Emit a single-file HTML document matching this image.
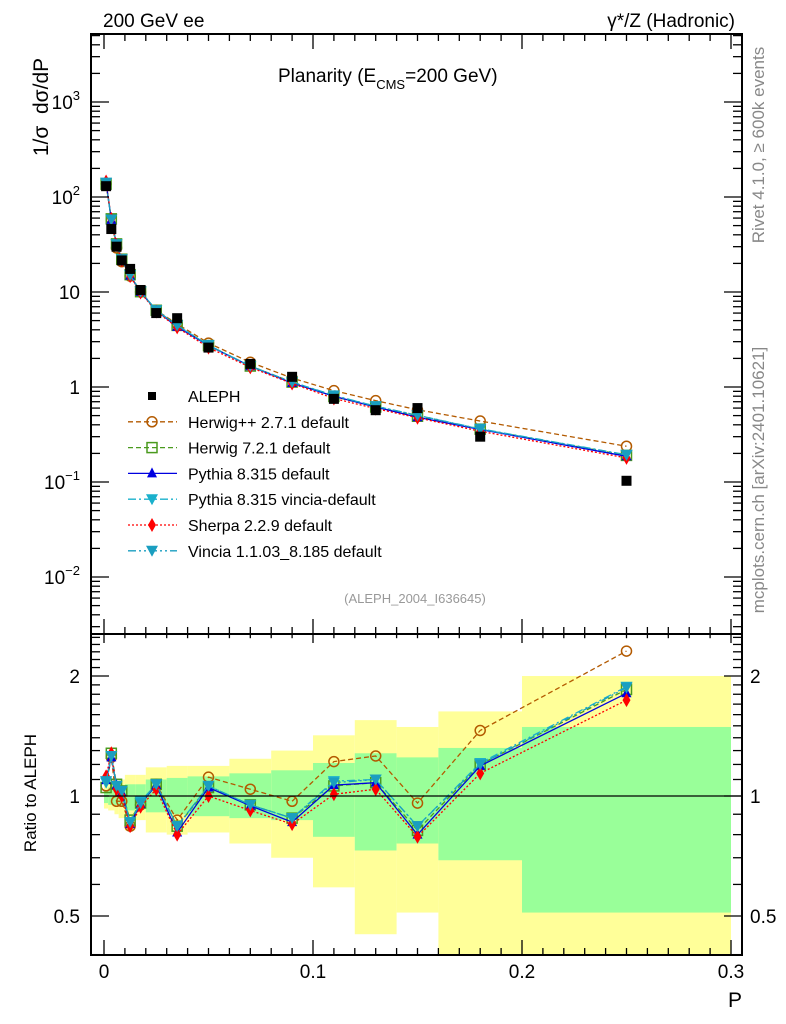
<!DOCTYPE html>
<html><head><meta charset="utf-8"><style>
body{margin:0;background:#fff;}
svg{display:block;font-family:"Liberation Sans",sans-serif;}
</style></head><body>
<svg id="c" width="786" height="1024" viewBox="0 0 786 1024" xmlns="http://www.w3.org/2000/svg">
<rect width="786" height="1024" fill="#fff"/>
<g id="bands"></g>
<g id="series"></g>
<g id="axes"></g>
<text x="103" y="27" font-size="19">200 GeV ee</text>
<text x="735" y="27" font-size="19" text-anchor="end">γ*/Z (Hadronic)</text>
<text x="278" y="82" font-size="19">Planarity (E<tspan font-size="13" dy="7">CMS</tspan><tspan dy="-7">=200 GeV)</tspan></text>
<text transform="translate(48,107) rotate(-90)" font-size="21" text-anchor="middle" xml:space="preserve">1/σ  dσ/dP</text>
<text transform="translate(36,793) rotate(-90)" font-size="17" text-anchor="middle">Ratio to ALEPH</text>
<text x="735" y="1007" font-size="21" text-anchor="middle">P</text>
<text transform="translate(764,145) rotate(-90)" font-size="17" fill="#888" text-anchor="middle">Rivet 4.1.0, ≥ 600k events</text>
<text transform="translate(764,480) rotate(-90)" font-size="17" fill="#888" text-anchor="middle">mcplots.cern.ch [arXiv:2401.10621]</text>
<text x="415" y="603" font-size="13" fill="#999" text-anchor="middle">(ALEPH_2004_I636645)</text>
<g id="legend"></g>
</svg>
<script>
const xCenters=[0.001,0.0035,0.006,0.0085,0.0125,0.0175,0.025,0.035,0.05,0.07,0.09,0.11,0.13,0.15,0.18,0.25];
const binEdges=[0,0.002,0.005,0.007,0.01,0.015,0.02,0.03,0.04,0.06,0.08,0.1,0.12,0.14,0.16,0.2,0.3];
const alephVals=[130,46,30,21.5,17.5,10.5,6.0,5.3,2.6,1.75,1.28,0.75,0.57,0.6,0.3,0.103];
const yellowUp=[1.07,1.08,1.09,1.1,1.13,1.13,1.18,1.19,1.19,1.24,1.30,1.42,1.55,1.49,1.63,2.0];
const yellowDn=[0.93,0.92,0.9,0.88,0.82,0.87,0.81,0.8,0.81,0.76,0.70,0.59,0.45,0.51,0.3,0.3];
const greenUp=[1.03,1.05,1.05,1.06,1.07,1.07,1.1,1.11,1.12,1.14,1.16,1.21,1.28,1.25,1.32,1.49];
const greenDn=[0.96,0.95,0.95,0.94,0.92,0.93,0.91,0.9,0.89,0.88,0.87,0.79,0.73,0.76,0.69,0.51];
const ratioHerwigpp=[1.06,1.25,0.97,0.97,0.84,0.95,1.07,0.87,1.115,1.04,0.97,1.22,1.26,0.96,1.46,2.31];
const ratioHerwig7=[1.05,1.28,1.07,1.03,0.87,0.96,1.07,0.84,1.05,0.95,0.88,1.06,1.08,0.82,1.20,1.85];
const ratioPythia=[1.096,1.25,1.065,1.02,0.85,0.955,1.065,0.81,1.05,0.945,0.86,1.065,1.08,0.80,1.19,1.81];
const ratioPythiaVincia=[1.08,1.26,1.06,1.03,0.86,0.97,1.07,0.84,1.06,0.95,0.88,1.09,1.10,0.84,1.21,1.88];
const ratioSherpa=[1.12,1.28,1.04,1.0,0.84,0.94,1.04,0.80,1.0,0.92,0.85,1.01,1.04,0.79,1.14,1.74];
const ratioVincia=[1.09,1.26,1.06,1.03,0.86,0.96,1.07,0.84,1.06,0.95,0.88,1.08,1.10,0.84,1.20,1.87];

const NS="http://www.w3.org/2000/svg";
const L=91,R=742,T1=34,B1=634,T2=634,B2=955;
const X=v=>104+v*2090;
const Y=v=>387-Math.log10(v)*95;
const YR=v=>796-Math.log10(v)*398.6;
function mk(tag,attrs,parent){const e=document.createElementNS(NS,tag);for(const k in attrs)e.setAttribute(k,attrs[k]);parent.appendChild(e);return e;}
const bands=document.getElementById('bands'),ser=document.getElementById('series'),ax=document.getElementById('axes'),leg=document.getElementById('legend');
const clipR=v=>Math.min(Math.max(v,T2),B2);
for(let i=0;i<xCenters.length;i++){
  const x0=X(binEdges[i]),x1=X(binEdges[i+1]);
  let r=mk('rect',{x:x0,y:clipR(YR(yellowUp[i])),width:x1-x0,height:clipR(YR(yellowDn[i]))-clipR(YR(yellowUp[i])),fill:'#ffff99'},bands);
  
  
  r=mk('rect',{x:x0,y:clipR(YR(greenUp[i])),width:x1-x0,height:clipR(YR(greenDn[i]))-clipR(YR(greenUp[i])),fill:'#99ff99'},bands);
  
  
}
const gens=[
 {name:'Herwig++ 2.7.1 default',r:ratioHerwigpp,c:'#b35a00',dash:'5,3',m:'circle',id:'herwigpp'},
 {name:'Herwig 7.2.1 default',r:ratioHerwig7,c:'#4a9a1e',dash:'5,3',m:'square',id:'herwig7'},
 {name:'Pythia 8.315 default',r:ratioPythia,c:'#0000e0',dash:'',m:'up',id:'pythia'},
 {name:'Pythia 8.315 vincia-default',r:ratioPythiaVincia,c:'#1ab0cc',dash:'8,3,2,3',m:'down',id:'pythia-vincia'},
 {name:'Sherpa 2.2.9 default',r:ratioSherpa,c:'#ff0000',dash:'2,2',m:'diamond',id:'sherpa'},
 {name:'Vincia 1.1.03_8.185 default',r:ratioVincia,c:'#1a9ec0',dash:'8,3,2,3,2,3',m:'down',id:'vincia'}
];
function marker(type,x,y,c,parent,nm,s){
  s=s||5;let e;
  if(type==='circle')e=mk('circle',{cx:x,cy:y,r:5,fill:'none',stroke:c,'stroke-width':1.5},parent);
  else if(type==='square')e=mk('rect',{x:x-5,y:y-5,width:10,height:10,fill:'none',stroke:c,'stroke-width':1.5},parent);
  else if(type==='fsquare')e=mk('rect',{x:x-s,y:y-s,width:2*s,height:2*s,fill:c},parent);
  else if(type==='up')e=mk('polygon',{points:`${x},${y-6} ${x-5},${y+4} ${x+5},${y+4}`,fill:c},parent);
  else if(type==='down')e=mk('polygon',{points:`${x},${y+6} ${x-6},${y-5} ${x+6},${y-5}`,fill:c},parent);
  else e=mk('polygon',{points:`${x},${y-7} ${x-4},${y} ${x},${y+7} ${x+4},${y}`,fill:c},parent);
  
  
}
gens.forEach(g=>{
  const mv=alephVals.map((d,i)=>d*g.r[i]);
  let p=mk('polyline',{points:xCenters.map((x,i)=>X(x)+','+Y(mv[i])).join(' '),fill:'none',stroke:g.c,'stroke-width':1.3,'stroke-dasharray':g.dash},ser);
  
  
  p=mk('polyline',{points:xCenters.map((x,i)=>X(x)+','+YR(g.r[i])).join(' '),fill:'none',stroke:g.c,'stroke-width':1.3,'stroke-dasharray':g.dash},ser);
  
  
  xCenters.forEach((x,i)=>{marker(g.m,X(x),Y(mv[i]),g.c,ser,g.id+'-point');marker(g.m,X(x),YR(g.r[i]),g.c,ser,g.id+'-ratio-point');});
});
xCenters.forEach((x,i)=>marker('fsquare',X(x),Y(alephVals[i]),'#000',ser,'aleph-point'));
[[T1,B1],[T2,B2]].forEach(([t,b])=>{const f=mk('rect',{x:L,y:t,width:R-L,height:b-t,fill:'none',stroke:'#000','stroke-width':2},ax);});
let ln=mk('line',{x1:L,x2:R,y1:YR(1),y2:YR(1),stroke:'#000','stroke-width':1.2},ax);


function tick(x1,y1,x2,y2){mk('line',{x1,y1,x2,y2,stroke:'#000','stroke-width':1.3},ax);}
for(let k=0;k<=30;k++){const v=k/100,x=X(v),len=k%10===0?15:7;
  tick(x,T1,x,T1+len);tick(x,B1,x,B1-len);tick(x,T2,x,T2+len*0.6);tick(x,B2,x,B2-len);}
const xTickLabels=['0','0.1','0.2','0.3'];
xTickLabels.forEach(s=>{const t=mk('text',{x:X(parseFloat(s)),y:978,'font-size':19,'text-anchor':'middle'},ax);t.textContent=s;});
for(let e=-3;e<=3;e++){for(let m=1;m<10;m++){const v=m*Math.pow(10,e),y=Y(v);if(y<T1||y>B1)continue;const len=m===1?18:9;tick(L,y,L+len,y);tick(R,y,R-len,y);}}
const yTickExp=['−2','−1','0','1','2','3'];
yTickExp.forEach((s,i)=>{const e=i-2,y=Y(Math.pow(10,e));const t=mk('text',{x:80,y:y+7,'font-size':19,'text-anchor':'end'},ax);
  if(e===0)t.textContent='1';else if(e===1)t.textContent='10';else{t.textContent='10';const ts=mk('tspan',{'font-size':13,dy:-9},t);ts.textContent=s;}
  });
for(let v=0.4;v<=2.55;v+=0.1){const y=YR(v);if(y<T2||y>B2)continue;const maj=Math.abs(v-0.5)<1e-6||Math.abs(v-1)<1e-6||Math.abs(v-2)<1e-6;const len=maj?18:9;tick(L,y,L+len,y);tick(R,y,R-len,y);}
const ratioTickLabels=['0.5','1','2'];
ratioTickLabels.forEach(s=>{const y=YR(parseFloat(s));
  let t=mk('text',{x:80,y:y+7,'font-size':19,'text-anchor':'end'},ax);t.textContent=s;
  t=mk('text',{x:750,y:y+7,'font-size':19},ax);t.textContent=s;});
const legRows=[{name:'ALEPH',c:'#000',m:'fsquare',dash:null}].concat(gens);
legRows.forEach((g,i)=>{const y=396+i*25.8;
  if(g.dash!==null){const l=mk('line',{x1:128,x2:177,y1:y,y2:y,stroke:g.c,'stroke-width':1.3,'stroke-dasharray':g.dash},leg);}
  marker(g.m,152,y,g.c,leg,'legend-marker',4);
  const t=mk('text',{x:188,y:y+6,'font-size':16},leg);t.textContent=g.name;
});
</script>
</body></html>
